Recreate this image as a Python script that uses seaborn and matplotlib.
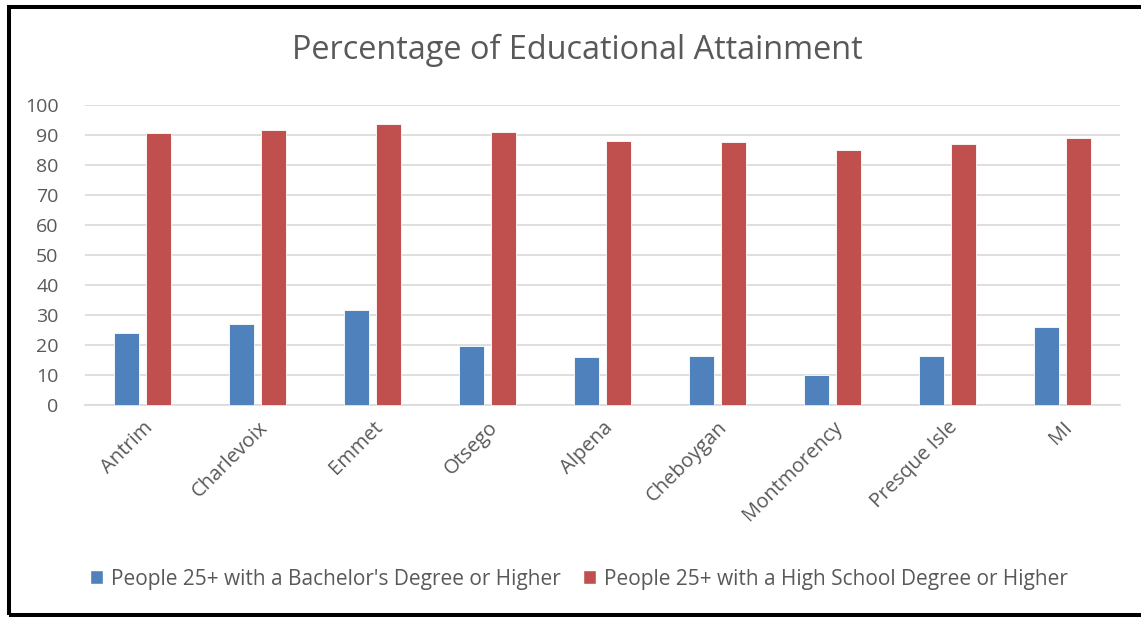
import matplotlib
matplotlib.use("Agg")
import matplotlib.pyplot as plt
from matplotlib.patches import Rectangle
import seaborn as sns
import pandas as pd

counties = ["Antrim", "Charlevoix", "Emmet", "Otsego", "Alpena",
            "Cheboygan", "Montmorency", "Presque Isle", "MI"]
bachelors = [23.9, 27.0, 31.8, 19.8, 16.0, 16.3, 9.9, 16.3, 25.9]
high_school = [90.7, 91.7, 93.8, 91.0, 88.0, 87.8, 85.0, 86.9, 89.0]
series_names = ["People 25+ with a Bachelor's Degree or Higher",
                "People 25+ with a High School Degree or Higher"]
colors = ["#4F81BD", "#C0504D"]

df = pd.DataFrame({
    "County": counties * 2,
    "Percent": bachelors + high_school,
    "Series": [series_names[0]] * len(counties) + [series_names[1]] * len(counties),
})

sns.set_theme(style="white")
plt.rcParams["font.family"] = ["Open Sans", "DejaVu Sans"]

W, H = 1141, 617
fig = plt.figure(figsize=(W / 100, H / 100), dpi=100)
ax = fig.add_axes([85 / W, 1 - 405 / H, (1120 - 85) / W, (405 - 105) / H])

sns.barplot(data=df, x="County", y="Percent", hue="Series", order=counties,
            hue_order=series_names, palette=colors, saturation=1,
            width=0.57, gap=0.24, edgecolor="white", linewidth=0.6,
            ax=ax, legend=False, zorder=3)

ax.set_ylim(0, 100)
ax.set_xlim(-0.5, len(counties) - 0.5)
ax.set_yticks(range(0, 101, 10))
ax.yaxis.grid(True, color="#d9d9d9", linewidth=1.2, zorder=0)
ax.set_axisbelow(True)
for side in ["top", "right", "left"]:
    ax.spines[side].set_visible(False)
ax.spines["bottom"].set_color("#d9d9d9")
ax.spines["bottom"].set_linewidth(1.2)
ax.set_xlabel("")
ax.set_ylabel("")
ax.tick_params(axis="both", length=0, colors="#595959", labelsize=14)
ax.tick_params(axis="y", pad=19)
ax.tick_params(axis="x", pad=9, labelsize=14.5)
plt.setp(ax.get_xticklabels(), rotation=45, ha="right", rotation_mode="anchor")

fig.text(577 / W, 1 - 50 / H, "Percentage of Educational Attainment",
         ha="center", va="center", fontsize=23.4, color="#595959")

# legend below the plot
handles = [Rectangle((0, 0), 1, 1, facecolor=c) for c in colors]
fig.legend(handles, series_names, loc="center", bbox_to_anchor=(579 / W, 1 - 579 / H),
           ncol=2, frameon=False, fontsize=15, handlelength=0.62, handleheight=0.62,
           handletextpad=0.38, columnspacing=1.1, labelcolor="#595959")

# chart frame
fig.add_artist(Rectangle((8.5 / W, 1 - 615 / H), 1.2, (615 - 6.5) / H,
                         transform=fig.transFigure, fill=False,
                         edgecolor="black", linewidth=2.9))

fig.savefig("out.png", dpi=100)
